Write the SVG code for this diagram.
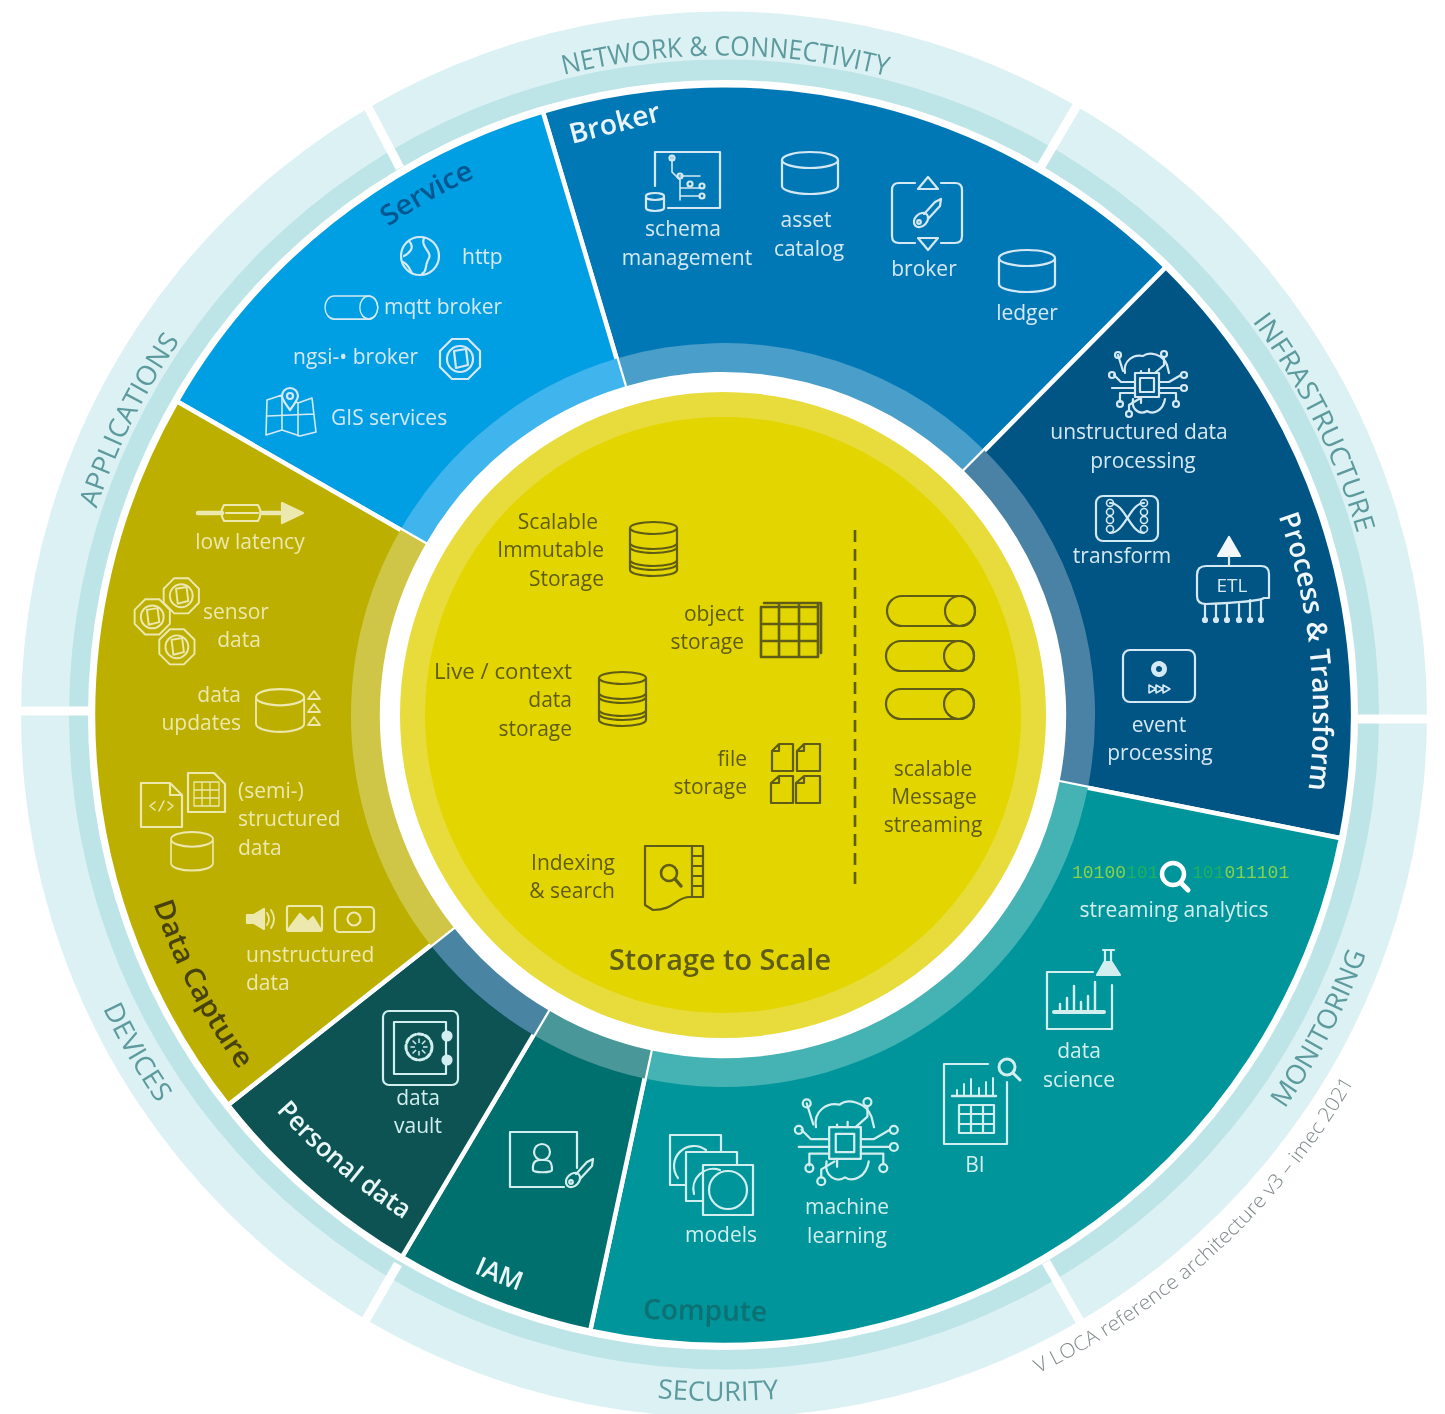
<svg xmlns="http://www.w3.org/2000/svg" xmlns:xlink="http://www.w3.org/1999/xlink" width="1445" height="1414" viewBox="0 0 1445 1414">
<style>
text{font-family:"Open Sans","Noto Sans","Liberation Sans",sans-serif;font-size:21px}
.m{text-anchor:middle}.e{text-anchor:end}
.ring{font-size:27px;fill:#5b9a9e;text-anchor:middle}
.lab{font-size:28px;font-weight:600}
.ic{fill:none;stroke-width:2.2;stroke-linejoin:round;stroke-linecap:round}
.bl text{fill:#d5e9f4}.bl .ic{stroke:#d5e9f4}
.dc text{fill:#ece8ae}.dc .ic{stroke:#ece8ae}
.te text{fill:#d3eeee}.te .ic{stroke:#d3eeee}
.ye text{fill:#5f5c14}.ye .ic{stroke:#5f5c14}
.sec{stroke:#fff;stroke-width:4.5}
</style>
<defs>
<filter id="soft" x="0" y="0" width="100%" height="100%"><feGaussianBlur stdDeviation="0.6"/></filter>
<path id="t661" d="M151.4 384.5A661 661 0 0 1 1294.6 384.5"/>
<path id="t592" d="M210.3 419A592 592 0 0 1 1235.7 419"/>
<path id="t590" d="M212 420A590 590 0 0 1 1234 420"/>
<path id="b686" d="M128.9 1058A686 686 0 0 0 1317.1 1058"/>
<path id="b730" d="M90.8 1080A730 730 0 0 0 1355.2 1080"/>
<path id="b600" d="M203.4 1015A600 600 0 0 0 1242.6 1015"/>
<path id="b597" d="M206 1013.5A597 597 0 0 0 1240 1013.5"/>
<path id="b611" d="M193.9 1020.5A611 611 0 0 0 1252.1 1020.5"/>
<g id="cyl"><path d="M0 9A28 8 0 0 1 56 9V35A28 8 0 0 1 0 35ZM0 9A28 8 0 0 0 56 9"/></g>
<g id="oct"><path d="M-8 -20H8L20 -8V8L8 20H-8L-20 8V-8Z"/><circle r="13"/><path d="M-6 -8L6 -10L8 6L-4 9Z"/></g>
<g id="stack"><path d="M0 7A23.5 6 0 0 1 47 7V49A23.5 6 0 0 1 0 49ZM0 7A23.5 6 0 0 0 47 7M0 22A23.5 6 0 0 0 47 22M0 26A23.5 6 0 0 0 47 26M0 39A23.5 6 0 0 0 47 39M0 43A23.5 6 0 0 0 47 43"/></g>
<g id="pill"><path d="M15 0H73A15 15 0 0 1 73 30H15A15 15 0 0 1 15 0Z"/><circle cx="73" cy="15" r="15"/></g>
<g id="key"><ellipse rx="8" ry="6" transform="rotate(-45)"/><path d="M3 -6L14 -18L20 -21L19 -14L7 -1"/><circle cx="-2" cy="2" r="1.8"/></g>
<g id="brain"><rect x="-12" y="-12" width="24" height="24"/><rect x="-7" y="-7" width="14" height="14"/>
<path d="M-22 -12C-24 -24 -14 -31 -4 -29C2 -34 16 -31 20 -20L22 -12M-14 14C-16 26 -6 30 0 26C6 30 16 26 18 14"/>
<path d="M-12 -3H-26L-33 -10M-12 3H-35M-12 8H-27V17M-6 -12V-14M-24 -14L-29 -30M-6 12V18M12 -3H22L34 -10M12 3H34M12 8H29V16M-8 14L-18 20V26M2 -12V-16M8 -12L17 -20V-28"/>
<circle cx="-29" cy="-30" r="3"/><circle cx="17" cy="-31" r="3"/><circle cx="-35" cy="-10" r="3"/><circle cx="37" cy="-10" r="3"/><circle cx="37" cy="3" r="3"/><circle cx="-27" cy="19" r="3"/><circle cx="-18" cy="29" r="3"/><circle cx="29" cy="19" r="3"/></g>
<g id="mag"><circle r="8"/><path d="M6 6L13 13"/></g>
</defs>
<g filter="url(#soft)">
<g id="outer-ring">
<circle cx="724" cy="714.5" r="703" fill="#dcf1f3"/>
<circle cx="724" cy="714.5" r="655" fill="#bde4e7"/>
<circle cx="723" cy="715" r="635" fill="#fff"/>
<g stroke="#fff" stroke-width="9">
<path d="M1040 168L1085 92M400 168L360 92M1046 1262L1085 1330M398 1264L360 1330M1080 719H1436M14 711H370"/>
</g>
<text class="ring" transform="rotate(0.2 723 715)"><textPath href="#t661" xlink:href="#t661" startOffset="50%" textLength="326" lengthAdjust="spacingAndGlyphs">NETWORK &amp; CONNECTIVITY</textPath></text>
<text class="ring" transform="rotate(63.7 723 715)"><textPath href="#t661" xlink:href="#t661" startOffset="50%" textLength="238" lengthAdjust="spacingAndGlyphs">INFRASTRUCTURE</textPath></text>
<text class="ring" transform="rotate(-63.6 723 715)"><textPath href="#t661" xlink:href="#t661" startOffset="50%" textLength="188" lengthAdjust="spacingAndGlyphs">APPLICATIONS</textPath></text>
<text class="ring" transform="rotate(-62.3 723 715)"><textPath href="#b686" xlink:href="#b686" startOffset="50%" textLength="176" lengthAdjust="spacingAndGlyphs">MONITORING</textPath></text>
<text class="ring" transform="rotate(0.4 723 715)"><textPath href="#b686" xlink:href="#b686" startOffset="50%" textLength="122" lengthAdjust="spacingAndGlyphs">SECURITY</textPath></text>
<text class="ring" transform="rotate(60.1 723 715)"><textPath href="#b686" xlink:href="#b686" startOffset="50%" textLength="110" lengthAdjust="spacingAndGlyphs">DEVICES</textPath></text>
<text font-weight="300" style="font-size:20px;fill:#7f898b;text-anchor:middle" transform="rotate(-42.7 723 715)"><textPath href="#b730" xlink:href="#b730" startOffset="50%" textLength="436" lengthAdjust="spacingAndGlyphs">V LOCA reference architecture v3 – imec 2021</textPath></text>
</g>

<g id="sector-broker" class="bl">
<path class="sec" fill="#0678b5" d="M624.9 386.4L542.8 111.5A630 630 0 0 1 1165.9 267.1L964.1 471.1A342 342 0 0 0 624.9 386.4Z"/>
<path fill="#4a9fc9" d="M624.9 386.4L616.6 358.6A372 372 0 0 1 984.5 450.5L964.1 471.1A342 342 0 0 0 624.9 386.4Z"/>
<text class="lab" style="fill:#eaf5fa" x="572" y="144" transform="rotate(-14.5 572 144)" textLength="93" lengthAdjust="spacingAndGlyphs">Broker</text>
<text class="m" x="683" y="236">schema</text><text class="m" x="687" y="265">management</text>
<text class="m" x="806" y="227">asset</text><text class="m" x="809" y="256">catalog</text>
<text class="m" x="924" y="276">broker</text><text class="m" x="1027" y="320">ledger</text>
<g class="ic">
<path d="M655 186V152H720V208H668"/>
<path d="M672 156V172L680 180V200M680 188H700M680 176L700 176M680 196H700" stroke-width="1.6"/>
<circle cx="672" cy="158" r="2.5"/><circle cx="680" cy="176" r="2.5"/><circle cx="690" cy="184" r="2.5"/><circle cx="702" cy="186" r="2.5"/><circle cx="702" cy="196" r="2.5"/>
<path d="M646 196A9 3 0 0 1 664 196V208A9 3 0 0 1 646 208ZM646 197A9 3 0 0 0 664 197"/>
<use href="#cyl" xlink:href="#cyl" x="782" y="151"/>
<path d="M915 183H899Q892 183 892 190V236Q892 243 899 243H915M941 183H955Q962 183 962 190V236Q962 243 955 243H941"/>
<path d="M928 177L938 189H918ZM928 250L938 238H918Z"/>
<use href="#key" xlink:href="#key" transform="translate(921 220)"/>
<use href="#cyl" xlink:href="#cyl" transform="translate(999 249)"/>
</g></g>

<g id="sector-service" class="bl">
<path class="sec" fill="#059ee2" d="M425.6 544.2L176.8 401.3A630 630 0 0 1 542.8 111.5L624.9 386.4A342 342 0 0 0 425.6 544.2Z"/>
<path fill="#3fb4ec" d="M425.6 544.2L400.5 529.7A372 372 0 0 1 616.6 358.6L624.9 386.4A342 342 0 0 0 425.6 544.2Z"/>
<text class="lab" style="fill:#06578f" transform="rotate(-29.6 723 715)"><textPath href="#t592" xlink:href="#t592" startOffset="50%" text-anchor="middle" textLength="100" lengthAdjust="spacingAndGlyphs">Service</textPath></text>
<text x="462" y="264">http</text><text x="384" y="314">mqtt broker</text><text x="293" y="364">ngsi-• broker</text><text x="331" y="425">GIS services</text>
<g class="ic">
<circle cx="420" cy="256" r="19"/><path d="M409 241C416 248 408 254 404 256M424 238C420 248 434 252 428 260C424 268 428 270 422 274M403 262C408 264 410 270 412 273"/>
<g transform="translate(325 296) scale(.6 .77)"><use href="#pill" xlink:href="#pill"/></g>
<use href="#oct" xlink:href="#oct" transform="translate(460 359)"/>
<path d="M267 400L282 395L298 403L312 398L316 432L300 436L282 430L266 435ZM282 395V430M298 403V436M268 416L314 414" stroke-width="1.6"/>
<path d="M290 410C284 402 282 398 282 396A8 8 0 0 1 298 396C298 398 296 402 290 410Z" fill="#059ee2"/><circle cx="290" cy="396" r="3"/>
</g></g>

<g id="sector-process" class="bl">
<path class="sec" fill="#005584" d="M964.1 471.1L1165.9 267.1A630 630 0 0 1 1341 838.2L1059.5 782.1A342 342 0 0 0 964.1 471.1Z"/>
<path fill="#4a82a5" d="M964.1 471.1L984.5 450.5A372 372 0 0 1 1087.9 787.7L1059.5 782.1A342 342 0 0 0 964.1 471.1Z"/>
<text class="lab" style="fill:#f0f6fa" transform="rotate(83.8 723 715)"><textPath href="#t590" xlink:href="#t590" startOffset="50%" text-anchor="middle" textLength="278" lengthAdjust="spacingAndGlyphs">Process &amp; Transform</textPath></text>
<text class="m" x="1139" y="439">unstructured data</text><text class="m" x="1143" y="468">processing</text>
<text class="m" x="1122" y="563">transform</text><text class="m" x="1232" y="592" style="font-size:19px">ETL</text>
<text class="m" x="1159" y="732">event</text><text class="m" x="1160" y="760">processing</text>
<g class="ic">
<use href="#brain" xlink:href="#brain" transform="translate(1147 385)"/>
<rect x="1096" y="496" width="62" height="45" rx="7"/>
<path d="M1110 503C1125 503 1130 533 1144 533M1110 533C1125 533 1130 503 1144 503" />
<g stroke-width="1.6"><circle cx="1110" cy="503" r="3.5"/><circle cx="1110" cy="512" r="3.5"/><circle cx="1110" cy="520" r="3.5"/><circle cx="1110" cy="529" r="3.5"/><circle cx="1144" cy="503" r="3.5"/><circle cx="1144" cy="512" r="3.5"/><circle cx="1144" cy="520" r="3.5"/><circle cx="1144" cy="529" r="3.5"/></g>
<path d="M1229 537L1240 556H1218Z" fill="#f2f7fa" stroke="#f2f7fa"/><path d="M1229 556V566"/>
<path d="M1206 566H1261Q1269 566 1269 574V598L1264 598Q1258 602 1206 604Q1197 604 1197 596V575Q1197 566 1206 566Z"/>
<path d="M1205 604V618M1216 604V618M1227 604V618M1239 604V618M1250 600V618M1261 600V618"/>
<g fill="#d5e9f4"><circle cx="1205" cy="620" r="2"/><circle cx="1216" cy="620" r="2"/><circle cx="1227" cy="620" r="2"/><circle cx="1239" cy="620" r="2"/><circle cx="1250" cy="620" r="2"/><circle cx="1261" cy="620" r="2"/></g>
<rect x="1123" y="650" width="72" height="52" rx="7"/>
<circle cx="1159" cy="669" r="5.5" stroke-width="5" stroke-dasharray="3.5 1"/>
<path d="M1149 685L1156 689L1149 693ZM1156 685L1163 689L1156 693ZM1163 685L1170 689L1163 693Z" stroke-width="1.5"/>
</g></g>

<g id="sector-compute" class="te">
<path class="sec" fill="#00959a" d="M1059.5 782.1L1341 838.2A630 630 0 0 1 590.2 1330.8L650.7 1050.3A342 342 0 0 0 1059.5 782.1Z"/>
<path fill="#45b2b3" d="M1059.5 782.1L1087.9 787.7A372 372 0 0 1 644.6 1078.6L650.7 1050.3A342 342 0 0 0 1059.5 782.1Z"/>
<text class="lab" style="fill:#0b6f72" x="643" y="1319" transform="rotate(1 643 1319)">Compute</text>
<text class="m" x="1174" y="917">streaming analytics</text>
<text class="m" x="1079" y="1058">data</text><text class="m" x="1079" y="1087">science</text><text class="m" x="975" y="1172">BI</text>
<text class="m" x="847" y="1214">machine</text><text class="m" x="847" y="1243">learning</text><text class="m" x="721" y="1242">models</text>
<text x="1072" y="878" style="font-family:'Liberation Mono',monospace;font-size:18px;fill:#86d24a">10100<tspan fill="#1fb060">101</tspan></text>
<text x="1192" y="878" style="font-family:'Liberation Mono',monospace;font-size:18px;fill:#1fb060">101<tspan fill="#86d24a">011101</tspan></text>
<g class="ic">
<circle cx="1173" cy="874" r="11" style="stroke:#fff" stroke-width="4.5"/><path d="M1181 883L1188 890" style="stroke:#fff" stroke-width="5"/>
<path d="M1093 972H1047V1029H1112V985"/><path d="M1103 950H1114M1105 950V961L1097 975H1120L1111 961V950" />
<path d="M1098 975L1105 962H1110L1118 975Z" fill="#d3eeee"/>
<path d="M1054 1012H1104" stroke-width="4"/><path d="M1060 1012V1004M1067 1012V998M1074 1012V986M1081 1012V1002M1088 1012V996M1095 1012V982" stroke-width="2.4"/>
<path d="M988 1064H944V1144H1007V1082"/><use href="#mag" xlink:href="#mag" transform="translate(1007 1067)" stroke-width="3"/>
<path d="M952 1096H996" stroke-width="2.4"/><path d="M957 1096V1090M964 1096V1084M971 1096V1079M979 1096V1088M986 1096V1082M993 1096V1078" stroke-width="2"/>
<path d="M959 1105H994V1133H959ZM959 1114H994M959 1124H994M971 1105V1133M983 1105V1133"/>
<path d="M686 1185H670V1135H721V1152"/><path d="M703 1201H686V1152H737V1165"/><rect x="703" y="1165" width="50" height="50"/>
<circle cx="728" cy="1190" r="19"/><path d="M678 1178A20 20 0 0 1 706 1150M694 1194A20 20 0 0 1 720 1170"/>
<use href="#brain" xlink:href="#brain" transform="translate(845 1143) scale(1.32)" stroke-width="1.7"/>
</g></g>

<g id="sector-iam" class="te">
<path class="sec" fill="#006f6e" d="M650.7 1050.3L590.2 1330.8A630 630 0 0 1 402 1257L548.2 1010.1A342 342 0 0 0 650.7 1050.3Z"/>
<path fill="#4a9798" d="M650.7 1050.3L644.6 1078.6A372 372 0 0 1 533.5 1035L548.2 1010.1A342 342 0 0 0 650.7 1050.3Z"/>
<text class="lab" style="font-size:26px;fill:#eaf6f5" transform="rotate(21.8 723 715)"><textPath href="#b611" xlink:href="#b611" startOffset="50%" text-anchor="middle">IAM</textPath></text>
<g class="ic">
<path d="M577 1168V1132H510V1187H564"/>
<circle cx="542" cy="1152" r="8"/><path d="M533 1170C532 1160 538 1160 541 1160H544C548 1160 552 1160 552 1170C552 1173 533 1173 533 1170Z"/>
<use href="#key" xlink:href="#key" transform="translate(573 1180)"/>
</g></g>

<g id="sector-personal" class="te">
<path class="sec" fill="#075353" d="M548.2 1010.1L402 1257A630 630 0 0 1 228 1105L453.5 927.3A342 342 0 0 0 548.2 1010.1Z"/>
<path fill="#4a85a3" d="M548.2 1010.1L533.5 1035A372 372 0 0 1 430.7 945.3L453.5 927.3A342 342 0 0 0 548.2 1010.1Z"/>
<text class="lab" style="font-size:26px;fill:#eaf6f5" transform="rotate(40.4 723 715)"><textPath href="#b597" xlink:href="#b597" startOffset="50%" text-anchor="middle" textLength="168" lengthAdjust="spacingAndGlyphs">Personal data</textPath></text>
<text class="m" x="418" y="1105">data</text><text class="m" x="418" y="1133">vault</text>
<g class="ic">
<rect x="383" y="1011" width="75" height="74" rx="6"/><rect x="394" y="1022" width="52" height="52"/>
<circle cx="419" cy="1047" r="13" stroke-dasharray="5 2.5" stroke-width="3"/><path d="M419 1039V1055M411 1047H427M413 1041L425 1053M425 1041L413 1053" stroke-width="1.5"/><circle cx="419" cy="1047" r="3" fill="#075353" stroke="#075353"/>
<circle cx="447" cy="1036" r="4.5" fill="#d3eeee"/><circle cx="447" cy="1060" r="4.5" fill="#d3eeee"/>
</g></g>

<g id="sector-data-capture" class="dc">
<path class="sec" fill="#bcaf00" d="M453.5 927.3L228 1105A630 630 0 0 1 176.8 401.3L425.6 544.2A342 342 0 0 0 453.5 927.3Z"/>
<path fill="#cfc646" d="M453.5 927.3L430.7 945.3A372 372 0 0 1 400.5 529.7L425.6 544.2A342 342 0 0 0 453.5 927.3Z"/>
<text class="lab" style="fill:#46420c" transform="rotate(62.7 723 715)"><textPath href="#b600" xlink:href="#b600" startOffset="50%" text-anchor="middle" textLength="188" lengthAdjust="spacingAndGlyphs">Data Capture</textPath></text>
<text class="m" x="250" y="549">low latency</text><text class="m" x="236" y="619">sensor</text><text class="m" x="239" y="647">data</text>
<text class="e" x="241" y="702">data</text><text class="e" x="241" y="730">updates</text>
<text x="238" y="798">(semi-)</text><text x="238" y="826">structured</text><text x="238" y="855">data</text>
<text x="246" y="962">unstructured</text><text x="246" y="990">data</text>
<g class="ic">
<path d="M198 513H222M262 513H280" stroke-width="4.5"/><path d="M282 503L303 513L282 523Z" fill="#ece8ae"/>
<path d="M224 505H258Q263 513 258 521H224Q219 513 224 505ZM226 513H258"/>
<g transform="scale(.88)"><use href="#oct" xlink:href="#oct" x="173" y="701"/><use href="#oct" xlink:href="#oct" x="206" y="677"/><use href="#oct" xlink:href="#oct" x="201" y="735"/></g>
<g transform="translate(256 688) scale(.86 1.02)"><use href="#cyl" xlink:href="#cyl"/></g>
<path d="M314 691L320 699H308ZM314 704L320 712H308ZM314 717L320 725H308Z" stroke-width="1.8"/>
<path d="M141 783H170L182 795V827H141ZM170 783V795H182"/><path d="M155 802L150 806L155 810M159 811L164 801M168 802L173 806L168 810" stroke-width="1.6"/>
<path d="M188 773H214L225 784V812H188Z"/><path d="M194 782H219V806H194ZM194 790H219M194 798H219M202 782V806M210 782V806" stroke-width="1.3"/>
<g transform="translate(171 831) scale(.75 .92)"><use href="#cyl" xlink:href="#cyl"/></g>
<path d="M247 915H254L264 909V929L254 923H247Z" fill="#ece8ae"/><path d="M267 913Q271 919 267 925M271 910Q277 919 271 928" stroke-width="1.8"/>
<rect x="287" y="906" width="35" height="25" rx="2"/><path d="M288 930L300 914L308 922L313 917L321 930Z" fill="#ece8ae"/>
<rect x="335" y="907" width="39" height="25" rx="4"/><circle cx="354" cy="919" r="6.5"/>
</g></g>

<g id="center-storage" class="ye">
<circle cx="723" cy="715" r="323" fill="#e8dc3c"/>
<circle cx="723" cy="715" r="298" fill="#e3d500"/>
<text class="e" x="598" y="529">Scalable</text><text class="e" x="604" y="557">Immutable</text><text class="e" x="604" y="586">Storage</text>
<text class="e" x="744" y="621">object</text><text class="e" x="744" y="649">storage</text>
<text class="e" x="572" y="679" textLength="138" lengthAdjust="spacingAndGlyphs">Live / context</text><text class="e" x="572" y="707">data</text><text class="e" x="572" y="736">storage</text>
<text class="e" x="747" y="766">file</text><text class="e" x="747" y="794">storage</text>
<text class="e" x="615" y="870">Indexing</text><text class="e" x="615" y="898">&amp; search</text>
<text class="m" x="933" y="776">scalable</text><text class="m" x="934" y="804">Message</text><text class="m" x="933" y="832">streaming</text>
<text class="m lab" x="720" y="970" textLength="222" lengthAdjust="spacingAndGlyphs">Storage to Scale</text>
<g class="ic">
<use href="#stack" xlink:href="#stack" x="630" y="521"/><use href="#stack" xlink:href="#stack" x="599" y="671"/>
<path d="M761 607H818V657H761ZM761 624H818M761 641H818M779 603V657M799 603V657M818 603V657M764 603H821V653M779 603V607M799 603V607" stroke-width="2.6"/>
<path d="M779 744H793V771H772V751ZM779 744V751H772M804 744H820V771H797V751ZM804 744V751H797M779 776H793V803H771V783ZM779 776V783H771M804 776H820V803H796V783ZM804 776V783H796"/>
<path d="M645 846H703V897H690C675 897 675 910 653 910L645 905ZM692 846V897M692 856H703M692 866H703M692 876H703M692 886H703"/>
<circle cx="669" cy="873" r="8" stroke-width="2.6"/><path d="M675 879L681 886" stroke-width="3.4"/>
<use href="#pill" xlink:href="#pill" x="887" y="596"/><use href="#pill" xlink:href="#pill" x="886" y="641"/><use href="#pill" xlink:href="#pill" x="886" y="689"/>
<path d="M855 530V890" stroke-width="2.6" stroke-dasharray="12 7" stroke-linecap="butt"/>
</g></g>
</g>
</svg>
